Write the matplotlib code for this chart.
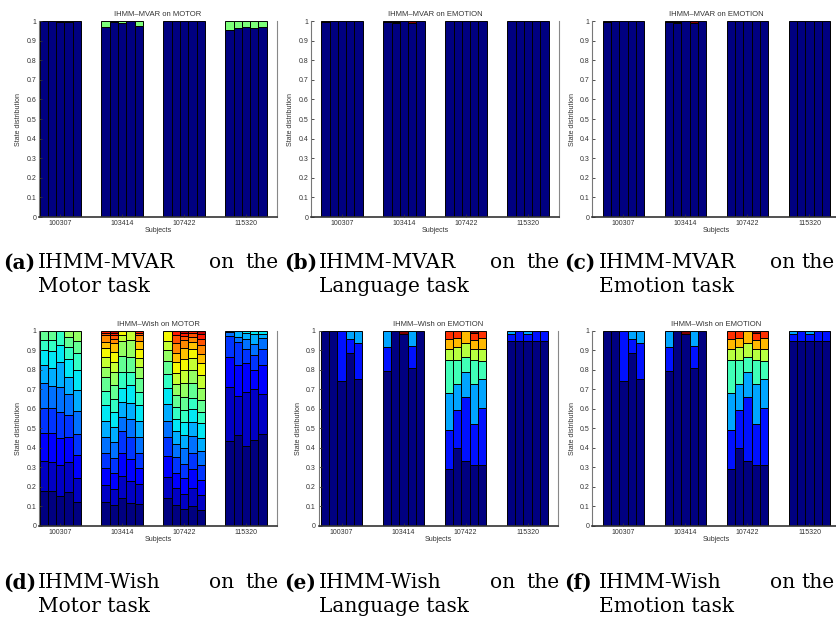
import numpy as np
import matplotlib
matplotlib.use('Agg')
import matplotlib.pyplot as plt

plt.rcParams['font.family'] = ['Liberation Sans', 'DejaVu Sans']

subjects = ['100307', '103414', '107422', '115320']
yticks = [0, 0.1, 0.2, 0.3, 0.4, 0.5, 0.6, 0.7, 0.8, 0.9, 1]
ytick_labels = ['0', '0.1', '0.2', '0.3', '0.4', '0.5', '0.6', '0.7', '0.8', '0.9', '1']

# Cumulative top of each state segment for each of 5 bars per subject
mvar_motor = [
    [[1.0], [1.0], [0.995, 0.995, 1.0], [0.997, 1.0], [1.0]],
    [[0.971, 1.0], [0.993, 0.998, 1.0], [0.988, 1.0], [1.0], [0.974, 1.0]],
    [[1.0], [1.0], [1.0], [1.0], [1.0]],
    [[0.954, 1.0], [0.962, 1.0], [0.968, 1.0], [0.962, 1.0], [0.970, 1.0]],
]
mvar_emotion = [
    [[0.993, 0.993, 1.0], [1.0], [1.0], [1.0], [1.0]],
    [[0.993, 0.993, 1.0], [0.988, 0.997, 1.0], [1.0], [0.990, 0.990, 1.0], [1.0]],
    [[1.0], [1.0], [1.0], [1.0], [1.0]],
    [[1.0], [1.0], [1.0], [1.0], [1.0]],
]
wish_motor = [
    [[0.181, 0.333, 0.478, 0.606, 0.730, 0.824, 0.900, 0.952, 1.0],
     [0.178, 0.330, 0.478, 0.605, 0.718, 0.808, 0.895, 0.950, 1.0],
     [0.155, 0.312, 0.452, 0.582, 0.713, 0.840, 0.927, 1.0],
     [0.175, 0.330, 0.455, 0.570, 0.675, 0.765, 0.855, 0.915, 0.970, 1.0],
     [0.125, 0.245, 0.362, 0.473, 0.588, 0.697, 0.797, 0.888, 0.945, 1.0]],
    [[0.121, 0.210, 0.295, 0.375, 0.457, 0.537, 0.619, 0.693, 0.765, 0.812, 0.863, 0.909, 0.943, 0.978, 0.990, 1.0],
     [0.107, 0.190, 0.270, 0.350, 0.432, 0.509, 0.582, 0.650, 0.722, 0.790, 0.840, 0.892, 0.935, 0.957, 0.978, 0.990, 1.0],
     [0.145, 0.258, 0.372, 0.486, 0.560, 0.635, 0.705, 0.790, 0.870, 0.945, 0.980, 1.0],
     [0.120, 0.232, 0.345, 0.455, 0.550, 0.630, 0.720, 0.790, 0.865, 0.950, 1.0],
     [0.111, 0.213, 0.295, 0.375, 0.457, 0.537, 0.620, 0.688, 0.756, 0.816, 0.860, 0.905, 0.945, 0.978, 0.990, 1.0]],
    [[0.142, 0.253, 0.358, 0.457, 0.539, 0.625, 0.705, 0.776, 0.846, 0.900, 0.949, 1.0],
     [0.105, 0.195, 0.270, 0.355, 0.420, 0.485, 0.550, 0.610, 0.670, 0.725, 0.785, 0.840, 0.885, 0.935, 0.980, 1.0],
     [0.085, 0.165, 0.245, 0.320, 0.400, 0.465, 0.530, 0.595, 0.660, 0.730, 0.800, 0.855, 0.910, 0.950, 0.975, 0.990, 1.0],
     [0.100, 0.195, 0.290, 0.375, 0.460, 0.530, 0.600, 0.655, 0.730, 0.800, 0.860, 0.905, 0.940, 0.970, 0.990, 1.0],
     [0.080, 0.160, 0.235, 0.310, 0.385, 0.450, 0.525, 0.585, 0.645, 0.705, 0.775, 0.835, 0.880, 0.925, 0.960, 0.985, 1.0]],
    [[0.437, 0.713, 0.867, 0.974, 0.991, 1.0],
     [0.465, 0.668, 0.822, 0.940, 0.970, 1.0],
     [0.408, 0.687, 0.836, 0.905, 0.958, 0.990, 1.0],
     [0.440, 0.700, 0.800, 0.875, 0.930, 0.985, 1.0],
     [0.470, 0.675, 0.825, 0.905, 0.965, 0.985, 1.0]],
]
wish_emotion = [
    [[1.0], [1.0], [0.740, 1.0], [0.885, 0.960, 1.0], [0.755, 0.935, 1.0]],
    [[0.795, 0.915, 1.0], [1.0], [0.985, 0.985, 0.985, 0.985, 0.985, 0.985, 0.985, 1.0],
     [0.810, 0.920, 1.0], [1.0]],
    [[0.290, 0.490, 0.680, 0.850, 0.905, 0.955, 1.0],
     [0.400, 0.595, 0.725, 0.850, 0.915, 0.965, 1.0],
     [0.335, 0.660, 0.790, 0.865, 0.935, 1.0],
     [0.310, 0.520, 0.725, 0.850, 0.905, 0.950, 0.990, 1.0],
     [0.310, 0.605, 0.755, 0.845, 0.905, 0.965, 1.0]],
    [[0.948, 0.985, 1.0], [0.948, 1.0], [0.948, 0.985, 1.0], [0.948, 1.0], [0.948, 1.0]],
]

W, H = 837, 622
fig = plt.figure(figsize=(W / 100, H / 100), dpi=100)


def add_axes_px(left, right, top, bottom):
    return fig.add_axes([left / W, 1 - bottom / H, (right - left) / W, (bottom - top) / H])


def draw(ax, data, n_states, title, xlim):
    cmap = plt.get_cmap('jet')
    colors = [cmap(k / (n_states - 1)) for k in range(n_states)]
    width = 0.669 / 5
    for g, group in enumerate(data):
        for b, tops in enumerate(group):
            tops = np.asarray(tops)
            x = g + 1 + (b - 2) * width
            bottoms = np.concatenate([[0.0], tops[:-1]])
            heights = tops - bottoms
            ax.bar(np.full(len(tops), x), heights, bottom=bottoms, width=width,
                   color=colors[:len(tops)], edgecolor='black', linewidth=0.7)
    ax.set_xlim(*xlim)
    ax.set_ylim(0, 1)
    ax.set_yticks(yticks)
    ax.set_yticklabels(ytick_labels)
    ax.set_xticks([1, 2, 3, 4])
    ax.set_xticklabels(subjects)
    ax.tick_params(direction='in', length=2, width=0.6, labelsize=5, pad=2,
                   colors='#333333')
    ax.spines['top'].set_visible(False)
    ax.spines['right'].set_color('#888888')
    ax.spines['left'].set_color('#777777')
    ax.spines['bottom'].set_color('#333333')
    ax.spines['bottom'].set_linewidth(1.2)
    ax.set_title(title, fontsize=5.5, pad=3.5, color='#333333')
    ax.set_xlabel('Subjects', fontsize=5, labelpad=0.5, color='#333333')
    ax.set_ylabel('State distribution', fontsize=5, labelpad=3, color='#333333')


panels = [
    (mvar_motor, 3, 'IHMM\u2013MVAR on MOTOR', (39, 277, 21, 217), (0.657, 4.5)),
    (mvar_emotion, 3, 'IHMM\u2013MVAR on EMOTION', (311, 559, 21, 217), (0.5, 4.5)),
    (mvar_emotion, 3, 'IHMM\u2013MVAR on EMOTION', (592.5, 840.5, 21, 217), (0.5, 4.5)),
    (wish_motor, 18, 'IHMM\u2013Wish on MOTOR', (39, 277, 330.7, 526), (0.657, 4.5)),
    (wish_emotion, 8, 'IHMM\u2013Wish on EMOTION', (318.6, 558.5, 330.7, 526), (0.63, 4.5)),
    (wish_emotion, 8, 'IHMM\u2013Wish on EMOTION', (592.5, 840.5, 330.7, 526), (0.5, 4.5)),
]

for data, n, title, (l, r, t, b), xlim in panels:
    ax = add_axes_px(l, r, t, b)
    draw(ax, data, n, title, xlim)

# Captions
cap_font = 'DejaVu Serif'
cap_size = 14.5
captions = [
    ('(a)', 'IHMM-MVAR', 'Motor task', 0, 263),
    ('(b)', 'IHMM-MVAR', 'Language task', 281, 263),
    ('(c)', 'IHMM-MVAR', 'Emotion task', 561, 263),
    ('(d)', 'IHMM-Wish', 'Motor task', 0, 583),
    ('(e)', 'IHMM-Wish', 'Language task', 281, 583),
    ('(f)', 'IHMM-Wish', 'Emotion task', 561, 583),
]
for lab, method, task, x0, y0 in captions:
    right = min(x0 + 279, 835)
    fig.text((x0 + 3) / W, 1 - y0 / H, lab, fontsize=cap_size, family=cap_font,
             fontweight='bold', va='center', ha='left')
    fig.text((x0 + 38) / W, 1 - y0 / H, method, fontsize=cap_size, family=cap_font,
             va='center', ha='left')
    fig.text((x0 + 222) / W, 1 - y0 / H, 'on', fontsize=cap_size, family=cap_font,
             va='center', ha='center')
    fig.text(right / W, 1 - y0 / H, 'the', fontsize=cap_size, family=cap_font,
             va='center', ha='right')
    fig.text((x0 + 38) / W, 1 - (y0 + 23) / H, task, fontsize=cap_size, family=cap_font,
             va='center', ha='left')

fig.savefig('out.png', dpi=100)
